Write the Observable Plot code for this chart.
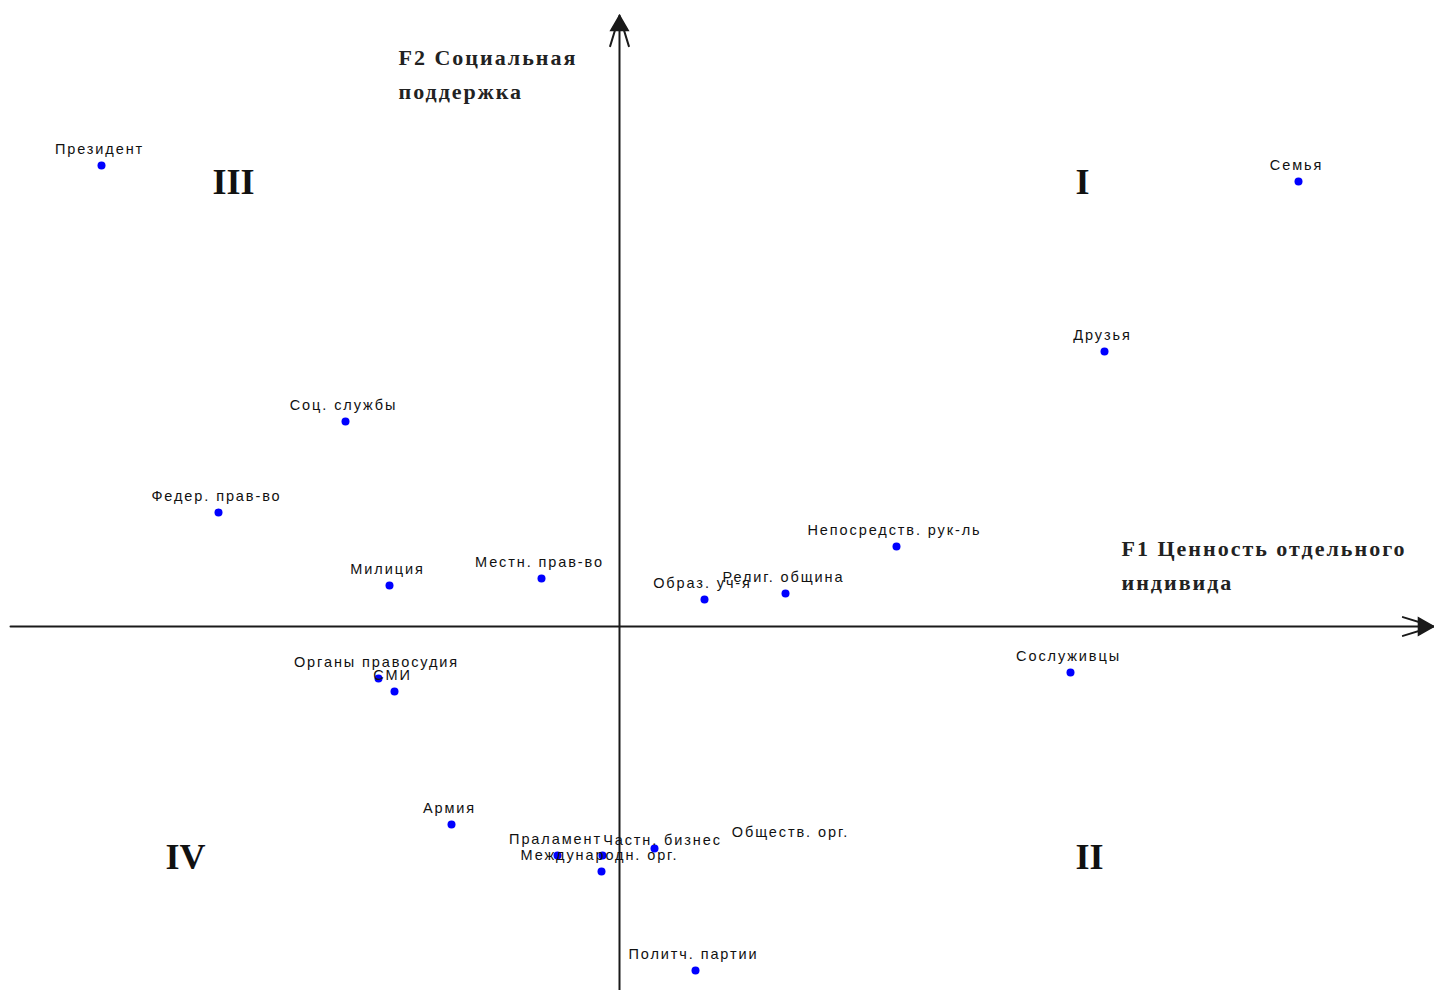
<!DOCTYPE html>
<html>
<head>
<meta charset="utf-8">
<script src="https://cdn.jsdelivr.net/npm/d3@7"></script>
<script src="https://cdn.jsdelivr.net/npm/@observablehq/plot@0.6"></script>
<style>
  html, body { margin: 0; padding: 0; background: #fff; }
  #chart svg { display: block; }
  #chart g.lbl text { letter-spacing: 1.9px; }
  #chart g.ttl text { letter-spacing: 2px; }
</style>
</head>
<body>
<div id="chart"></div>
<script>
// Objects (labels) and their coordinates on F1 (x) and F2 (y)
const names = [
  "Президент", "Семья", "Друзья", "Соц. службы", "Федер. прав-во",
  "Милиция", "Местн. прав-во", "Образ. уч-я", "Религ. община",
  "Непосредств. рук-ль", "Сослуживцы", "Органы правосудия", "СМИ",
  "Армия", "Праламент", "Обществ. орг.", "Международн. орг.",
  "Частн. бизнес", "Политч. партии"
];
const f1 = [
  -5.18, 6.79, 4.85, -2.74, -4.01,
  -2.30, -0.78, 0.85, 1.66,
  2.77, 4.51, -2.41, -2.25,
  -1.68, -0.62, -0.17, -0.18,
  0.35, 0.76
];
const f2 = [
  4.61, 4.45, 2.75, 2.05, 1.14,
  0.41, 0.48, 0.27, 0.33,
  0.80, -0.46, -0.52, -0.65,
  -1.98, -2.29, -2.29, -2.45,
  -2.22, -3.44
];

// Quadrant labels
const quadNames = ["I", "II", "III", "IV"];
const quadX = [4.63, 4.70, -3.86, -4.34];
const quadY = [4.44, -2.31, 4.44, -2.31];

// Axis titles
const axisTitles = ["F1 Ценность отдельного\nиндивида", "F2 Социальная\nподдержка"];
const axisTitleX = [5.02, -2.21];
const axisTitleY = [0.645, 5.55];

// Domains and axis extents
const xDomain = [-6.19, 8.15];
const yDomain = [-3.64, 6.26];
const xAxisExtent = [-6.09, 8.14];
const yAxisExtent = [-3.64, 6.11];

const points = names.map((n, i) => ({name: n, x: f1[i], y: f2[i]}));
const quads = quadNames.map((n, i) => ({name: n, x: quadX[i], y: quadY[i]}));
const titles = axisTitles.map((t, i) => ({t, x: axisTitleX[i], y: axisTitleY[i]}));

const axisColor = "#1a1a1a";
const labelFont = "Liberation Sans, Arial, sans-serif";
const special = ["Обществ. орг.", "Частн. бизнес"];

const plot = Plot.plot({
  width: 1434,
  height: 990,
  margin: 0,
  x: {domain: xDomain, axis: null},
  y: {domain: yDomain, axis: null},
  marks: [
    // horizontal axis F1
    Plot.arrow([0], {x1: xAxisExtent[0], x2: xAxisExtent[1], y1: 0, y2: 0,
      stroke: axisColor, strokeWidth: 2, headLength: 24, headAngle: 34}),
    Plot.dot([0], {x: xAxisExtent[1], y: 0, symbol: "triangle", r: 6.5, rotate: 90,
      fill: axisColor, stroke: axisColor, dx: -10}),
    // vertical axis F2
    Plot.arrow([0], {x1: 0, x2: 0, y1: yAxisExtent[0], y2: yAxisExtent[1],
      stroke: axisColor, strokeWidth: 2, headLength: 24, headAngle: 34}),
    Plot.dot([0], {x: 0, y: yAxisExtent[1], symbol: "triangle", r: 6.5,
      fill: axisColor, stroke: axisColor, dy: 10}),
    // points
    Plot.dot(points, {x: "x", y: "y", r: 4, fill: "#0000ff", stroke: "none"}),
    // point labels
    Plot.text(points.filter(d => !special.includes(d.name)), {
      x: "x", y: "y", text: "name", dy: -16, dx: -2,
      fontSize: 14.5, fontFamily: labelFont, fill: "#111", className: "lbl"
    }),
    Plot.text(points.filter(d => d.name === "Обществ. орг."), {
      x: "x", y: "y", text: "name", dy: -23, dx: 188,
      fontSize: 14.5, fontFamily: labelFont, fill: "#111", className: "lbl"
    }),
    Plot.text(points.filter(d => d.name === "Частн. бизнес"), {
      x: "x", y: "y", text: "name", dy: -8, dx: 8,
      fontSize: 14.5, fontFamily: labelFont, fill: "#111", className: "lbl"
    }),
    // quadrant numerals
    Plot.text(quads, {
      x: "x", y: "y", text: "name",
      fontSize: 36, fontWeight: "bold", fontFamily: "Liberation Serif, Times New Roman, serif",
      fill: "#111"
    }),
    // axis titles
    Plot.text(titles, {
      x: "x", y: "y", text: "t", textAnchor: "start", lineHeight: 1.55,
      fontSize: 22, fontWeight: "bold", fontFamily: "Liberation Serif, Times New Roman, serif",
      fill: "#222", className: "ttl"
    })
  ]
});

document.getElementById("chart").appendChild(plot);
</script>
</body>
</html>
